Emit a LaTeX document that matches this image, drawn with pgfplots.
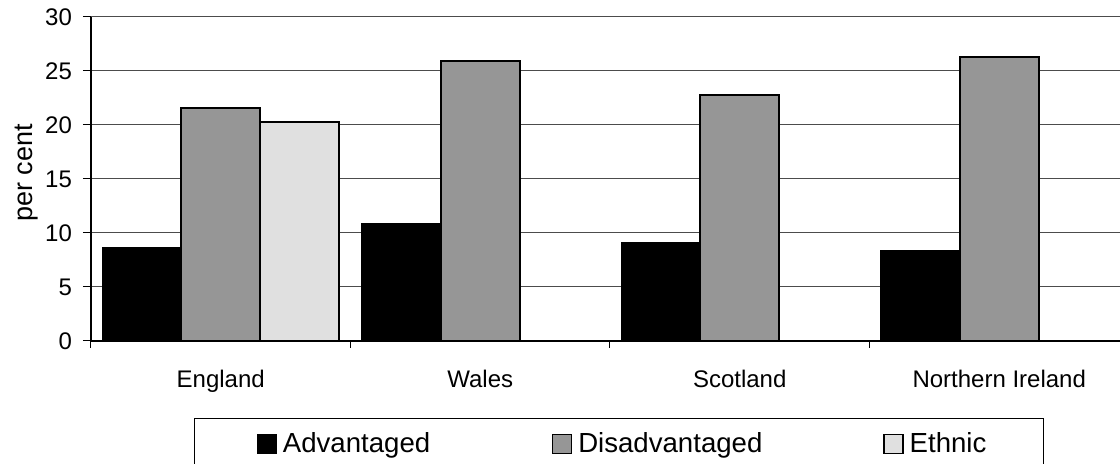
\documentclass[border=0pt]{standalone}
\usepackage{pgfplots}
\pgfplotsset{compat=1.18}
\usepackage{fontspec}
\setmainfont{Liberation Sans}
\definecolor{dis}{HTML}{969696}
\definecolor{eth}{HTML}{E0E0E0}
\pgfplotsset{sqlegend/.style={legend image code/.code={\draw[##1, line width=0.7pt] (0pt,-4.75pt) rectangle (9.5pt,4.75pt);}}}
\begin{document}
\begin{tikzpicture}
\begin{axis}[
  scale only axis,
  width=519pt, height=162pt,
  xmin=-0.5, xmax=3.5,
  ymin=0, ymax=30,
  ytick={0,5,...,30},
  xtick={0,1,2,3},
  xticklabels={England,Wales,Scotland,Northern Ireland},
  minor xtick={-0.5,0.5,1.5,2.5,3.5},
  /pgf/number format/assume math mode=true,
  axis x line*=bottom, axis y line*=left,
  axis line style={-, black, line width=0.7pt},
  ymajorgrids,
  major grid style={draw=black!70, line width=0.5pt},
  tick align=outside,
  major tick length=4pt,
  minor tick length=3.5pt,
  major x tick style={draw=none},
  tick style={black, line width=0.5pt},
  ticklabel style={font=\fontsize{12}{14}\selectfont},
  yticklabel style={xshift=-2pt},
  xticklabel style={yshift=-7pt},
  ylabel={per cent},
  every axis y label/.style={at={(axis description cs:0,0.5)}, anchor=center, xshift=-32pt, yshift=3pt, rotate=90, font=\fontsize{13.5}{15}\selectfont},
  ybar, bar width=0.304,
  legend columns=3,
  legend style={at={(rel axis cs:0,0)}, anchor=north west, xshift=51.5pt, yshift=-38.5pt,
    draw=black, line width=0.5pt, font=\fontsize{13.8}{15}\selectfont,
    inner xsep=31pt, inner ysep=5pt, nodes={inner xsep=3pt, inner ysep=2pt}},
  legend cell align=left,
]
\addplot[fill=black, draw=black, line width=0.9pt, bar shift=-0.304, sqlegend] coordinates {(0,8.6) (1,10.8) (2,9.1) (3,8.3)};
\addlegendentry{\makebox[131.5pt][l]{Advantaged}}
\addplot[fill=dis, draw=black, line width=0.9pt, bar shift=0, sqlegend] coordinates {(0,21.6) (1,25.9) (2,22.8) (3,26.3)};
\addlegendentry{\makebox[149.5pt][l]{Disadvantaged}}
\addplot[fill=eth, draw=black, line width=0.9pt, bar shift=0.304, sqlegend] coordinates {(0,20.3)};
\addlegendentry{\makebox[33pt][l]{Ethnic}}
\end{axis}
\pgfresetboundingbox
\useasboundingbox (-45.5pt,-61.5pt) rectangle (514.5pt,170.5pt);
\end{tikzpicture}
\end{document}
